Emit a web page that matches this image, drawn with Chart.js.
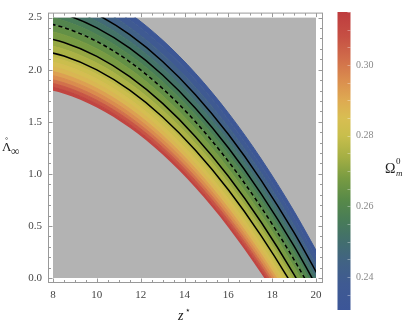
<!DOCTYPE html>
<html>
<head>
<meta charset="utf-8">
<script src="https://cdn.jsdelivr.net/npm/chart.js@4.4.1/dist/chart.umd.min.js"></script>
<style>
  html, body { margin: 0; padding: 0; background: #fff; }
</style>
</head>
<body>
<canvas id="chart" width="415" height="334"></canvas>
<script>
// values

// z* positions where the band is sampled
const zGrid = [7, 8.5, 10, 11.5, 13, 14.5, 16, 17.5, 19, 20.5];
// Λ of the lower (red, Ω = 0.315) edge of the band at each zGrid point
const redEdge = [1.842, 1.770, 1.637, 1.442, 1.185, 0.866, 0.486, 0.044, -0.459, -1.024];
// vertical thickness of each colour strip, stacked upward from the red edge
const stripWidth = [0.034, 0.035, 0.035, 0.040, 0.040, 0.045, 0.045, 0.045, 0.042,
                    0.065, 0.065, 0.073, 0.070, 0.065, 0.065, 0.065, 0.065, 0.070, 0.070, 0.065];
// Ω of each strip (gives its colour)
const stripOmega = [0.312, 0.307, 0.301, 0.296, 0.292, 0.287, 0.284, 0.281, 0.278,
                    0.275, 0.272, 0.268, 0.264, 0.260, 0.256, 0.252, 0.248, 0.243, 0.238, 0.233];
// black contours lie on top of these strips
const contourAfter = [8, 10, 12, 14, 16];
const contourDashed = [false, false, true, false, false];

const xTicks = [8, 10, 12, 14, 16, 18, 20];
const yTicks = [0, 0.5, 1, 1.5, 2, 2.5];
const omegaMin = 0.2307, omegaMax = 0.315;
const omegaTicks = [0.24, 0.26, 0.28, 0.30];

// DarkRainbow-like colour map
const cmap = [
  [0.2307, [60, 86, 152]],
  [0.238, [63, 90, 146]],
  [0.244, [65, 98, 133]],
  [0.250, [66, 110, 110]],
  [0.256, [72, 124, 88]],
  [0.262, [88, 138, 72]],
  [0.268, [120, 155, 66]],
  [0.274, [165, 175, 68]],
  [0.280, [200, 190, 76]],
  [0.285, [216, 190, 82]],
  [0.290, [222, 170, 82]],
  [0.296, [218, 140, 78]],
  [0.302, [208, 108, 74]],
  [0.308, [198, 80, 68]],
  [0.315, [190, 60, 62]]
];

function omegaColor(w) {
  for (let i = 1; i < cmap.length; i++) {
    if (w <= cmap[i][0] || i === cmap.length - 1) {
      const [w0, c0] = cmap[i - 1], [w1, c1] = cmap[i];
      const t = Math.max(0, Math.min(1, (w - w0) / (w1 - w0)));
      return 'rgb(' + c0.map((c, k) => Math.round(c + (c1[k] - c) * t)).join(',') + ')';
    }
  }
}

const pts = vals => zGrid.map((z, i) => ({ x: z, y: vals[i] }));

const datasets = [{ data: pts(redEdge), borderWidth: 0, fill: false }];
stripWidth.forEach((w, i) => {
  const col = omegaColor(stripOmega[i]);
  const k = contourAfter.indexOf(i);
  datasets.push({
    data: pts(zGrid.map(() => w)),
    fill: '-1',
    backgroundColor: col,
    borderColor: col,
    borderWidth: k >= 0 ? 0 : 1
  });
  if (k >= 0) {
    datasets.push({
      data: pts(zGrid.map(() => 0)),
      fill: false,
      borderColor: '#000',
      borderWidth: 1.5,
      borderDash: contourDashed[k] ? [4, 3] : []
    });
  }
});

const serif = '"Liberation Serif", "DejaVu Serif", serif';

const framePlugin = {
  id: 'frame',
  beforeDraw(chart) {
    const { ctx, chartArea: a } = chart;
    ctx.save();
    ctx.fillStyle = '#fff';
    ctx.fillRect(0, 0, chart.width, chart.height);
    ctx.fillStyle = '#b3b3b3';
    ctx.fillRect(a.left, a.top, a.right - a.left, a.bottom - a.top);
    ctx.restore();
  },
  afterDraw(chart) {
    const { ctx, chartArea: a, scales: { x, y } } = chart;
    const L = a.left - 5, R = a.right + 6, T = a.top - 5, B = a.bottom + 4;
    ctx.save();
    ctx.strokeStyle = '#999';
    ctx.lineWidth = 1;
    ctx.strokeRect(L + 0.5, T + 0.5, R - L, B - T);

    // frame ticks pointing inward
    ctx.beginPath();
    for (let v = 8; v <= 20.001; v += 0.5) {
      const px = Math.round(x.getPixelForValue(v)) + 0.5;
      const len = Math.abs(v % 2) < 1e-6 ? 4 : 2.5;
      ctx.moveTo(px, B + 0.5); ctx.lineTo(px, B + 0.5 - len);
      ctx.moveTo(px, T + 0.5); ctx.lineTo(px, T + 0.5 + len);
    }
    for (let k = 0; k <= 25; k++) {
      const py = Math.round(y.getPixelForValue(k / 10)) + 0.5;
      const len = k % 5 === 0 ? 4 : 2.5;
      ctx.moveTo(L + 0.5, py); ctx.lineTo(L + 0.5 + len, py);
      ctx.moveTo(R + 0.5, py); ctx.lineTo(R + 0.5 - len, py);
    }
    ctx.stroke();

    // axis titles
    ctx.fillStyle = '#222';
    ctx.textBaseline = 'alphabetic';
    ctx.textAlign = 'left';
    ctx.font = '13px ' + serif;
    ctx.fillText('Λ', 2, 151);
    ctx.textAlign = 'center';
    ctx.font = '11px ' + serif;
    ctx.fillText('˚', 6.5, 145);
    ctx.textAlign = 'left';
    ctx.font = '12px ' + serif;
    ctx.fillText('∞', 11, 155);

    ctx.font = 'italic 14px ' + serif;
    ctx.fillText('z', 178, 320);
    ctx.font = '9px "DejaVu Sans", sans-serif';
    ctx.fillText('⋆', 185, 313);

    ctx.font = '14px ' + serif;
    ctx.fillText('Ω', 385, 173);
    ctx.font = '9px ' + serif;
    ctx.fillText('0', 396, 164);
    ctx.font = 'italic 9px ' + serif;
    ctx.fillText('m', 396, 176);

    // colour bar
    const cx = 337.5, cw = 13, cTop = 12, cBot = 310;
    const toY = w => cTop + (omegaMax - w) / (omegaMax - omegaMin) * (cBot - cTop);
    const grad = ctx.createLinearGradient(0, cBot, 0, cTop);
    cmap.forEach(([w, c]) => {
      grad.addColorStop((w - omegaMin) / (omegaMax - omegaMin), 'rgb(' + c.join(',') + ')');
    });
    ctx.fillStyle = grad;
    ctx.fillRect(cx, cTop, cw, cBot - cTop);
    ctx.strokeStyle = 'rgba(255,255,255,0.35)';
    ctx.beginPath();
    for (let k = 47; k <= 63; k++) {
      const py = Math.round(toY(k * 0.005)) + 0.5;
      ctx.moveTo(cx + cw - 3, py); ctx.lineTo(cx + cw, py);
    }
    ctx.stroke();
    ctx.fillStyle = '#888';
    ctx.font = '10px ' + serif;
    ctx.textAlign = 'left';
    ctx.textBaseline = 'middle';
    omegaTicks.forEach(w => ctx.fillText(w.toFixed(2), 356, toY(w)));
    ctx.restore();
  }
};

const tickFont = { family: serif, size: 11 };

new Chart(document.getElementById('chart'), {
  type: 'line',
  data: { datasets },
  options: {
    responsive: false,
    animation: false,
    layout: { padding: { left: 0, top: 13, right: 99, bottom: 0 } },
    elements: {
      point: { radius: 0, hoverRadius: 0 },
      line: { cubicInterpolationMode: 'monotone', capBezierPoints: false }
    },
    datasets: { line: { clip: 0 } },
    plugins: {
      legend: { display: false },
      tooltip: { enabled: false },
      filler: { drawTime: 'beforeDatasetsDraw' }
    },
    scales: {
      x: {
        type: 'linear', min: 8, max: 20,
        afterBuildTicks: s => { s.ticks = xTicks.map(v => ({ value: v })); },
        afterFit: s => { s.height = 56; },
        grid: { display: false, drawTicks: false },
        border: { display: false },
        ticks: { padding: 11, font: tickFont, color: '#444', callback: v => String(v) }
      },
      y: {
        min: 0, max: 2.5, stacked: 'single',
        afterBuildTicks: s => { s.ticks = yTicks.map(v => ({ value: v })); },
        afterFit: s => { s.width = 53; },
        grid: { display: false, drawTicks: false },
        border: { display: false },
        ticks: { padding: 11, font: tickFont, color: '#444', callback: v => v.toFixed(1) }
      }
    }
  },
  plugins: [framePlugin]
});
</script>
</body>
</html>
